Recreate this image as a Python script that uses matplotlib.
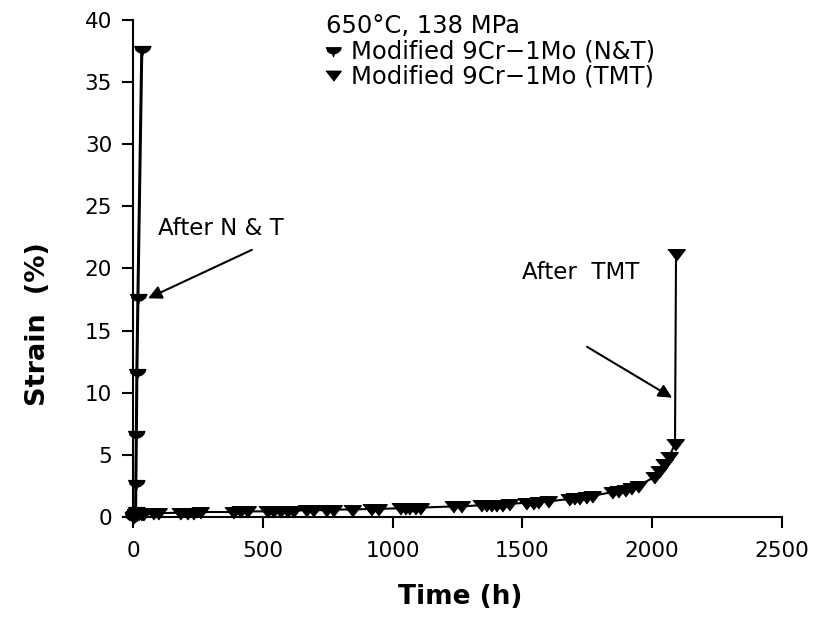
import numpy as np
import matplotlib.pyplot as plt
from matplotlib.lines import Line2D

plt.rcParams['font.family'] = ['DejaVu Sans']

# creep curves, 650 C / 138 MPa
nt_time = [0, 2, 4, 6, 8, 10, 11, 13, 15, 19, 34]
nt_strain = [0.0, 0.1, 0.2, 0.3, 0.4, 0.6, 2.7, 6.7, 11.7, 17.7, 37.7]

tmt_time = [0, 5, 10, 20, 30, 40, 78, 97, 180, 207, 230, 258, 385, 411, 438,
            515, 540, 565, 592, 615, 668, 692, 745, 770, 842, 918, 942, 1027,
            1046, 1065, 1085, 1104, 1231, 1265, 1342, 1360, 1380, 1400, 1420,
            1450, 1515, 1540, 1560, 1600, 1680, 1700, 1720, 1745, 1770, 1846,
            1870, 1895, 1920, 1945, 2008, 2027, 2045, 2065, 2088, 2092]
tmt_strain = [0.0, 0.1, 0.15, 0.2, 0.25, 0.25, 0.3, 0.3, 0.35, 0.35, 0.35, 0.4,
              0.4, 0.45, 0.45, 0.45, 0.5, 0.5, 0.5, 0.5, 0.55, 0.55, 0.55, 0.6,
              0.6, 0.65, 0.65, 0.7, 0.7, 0.75, 0.75, 0.75, 0.85, 0.85, 0.95,
              0.95, 1.0, 1.0, 1.0, 1.05, 1.15, 1.15, 1.2, 1.25, 1.45, 1.5, 1.55,
              1.6, 1.7, 2.0, 2.1, 2.2, 2.35, 2.5, 3.2, 3.7, 4.3, 4.8, 5.9, 21.2]

x_ticks = [0, 500, 1000, 1500, 2000, 2500]
y_ticks = [0, 5, 10, 15, 20, 25, 30, 35, 40]

# flat topped markers like the original
bowl = [(-1, 0.35), (1, 0.35), (0.85, 0), (0.5, -0.3), (0.1, -0.45), (0, -0.8),
        (-0.1, -0.45), (-0.5, -0.3), (-0.85, 0)]
tri = [(-1, 0.55), (1, 0.55), (0, -0.75)]

fig = plt.figure(figsize=(8.13, 6.21), dpi=100)
ax = fig.add_axes([0.1508, 0.1675, 0.811, 0.8003])

ax.plot(nt_time, nt_strain, color='k', lw=2.2, marker=bowl, ms=12,
        clip_on=False, zorder=3)
ax.plot(tmt_time, tmt_strain, color='k', lw=1.5, marker=tri, ms=12.5,
        clip_on=False, zorder=3)

ax.set_xlim(-40, 2500)
ax.set_ylim(0, 40)
ax.set_xticks(x_ticks)
ax.set_yticks(y_ticks)
ax.spines['left'].set_position(('data', 0))
ax.spines['top'].set_visible(False)
ax.spines['right'].set_visible(False)
for s in ['left', 'bottom']:
    ax.spines[s].set_linewidth(1.5)
ax.tick_params(direction='out', length=8, width=1.5, labelsize=15.5)
ax.tick_params(axis='x', pad=9)
ax.tick_params(axis='y', pad=7)

ax.set_xlabel('Time (h)', fontsize=19, fontweight='bold')
ax.set_ylabel('Strain  (%)', fontsize=19.5, fontweight='bold')
ax.xaxis.set_label_coords(0.512, -0.135)
ax.yaxis.set_label_coords(-0.108, 0.388)

ax.text(96, 23.2, 'After N & T', fontsize=16.5, va='center', ha='left')
ax.annotate('', xy=(58, 17.6), xytext=(458, 21.5),
            arrowprops=dict(arrowstyle='-|>', color='k', lw=1.5,
                            mutation_scale=20, shrinkA=0, shrinkB=0))
ax.text(1500, 19.7, 'After  TMT', fontsize=16.5, va='center', ha='left')
ax.annotate('', xy=(2077, 9.6), xytext=(1749, 13.7),
            arrowprops=dict(arrowstyle='-|>', color='k', lw=1.5,
                            mutation_scale=20, shrinkA=0, shrinkB=0))

handles = [Line2D([], [], ls='none', color='k', marker=bowl, ms=11),
           Line2D([], [], ls='none', color='k', marker=tri, ms=11)]
leg = ax.legend(handles, ['Modified 9Cr\u22121Mo (N&T)', 'Modified 9Cr\u22121Mo (TMT)'],
                title='650\u00b0C, 138 MPa', title_fontsize=17.5, fontsize=17.5,
                frameon=False, loc='upper left', bbox_to_anchor=(0.29, 1.036),
                handlelength=0.6, handletextpad=0.45, labelspacing=0.05,
                borderpad=0, alignment='left')

plt.savefig('out.png', dpi=100)
